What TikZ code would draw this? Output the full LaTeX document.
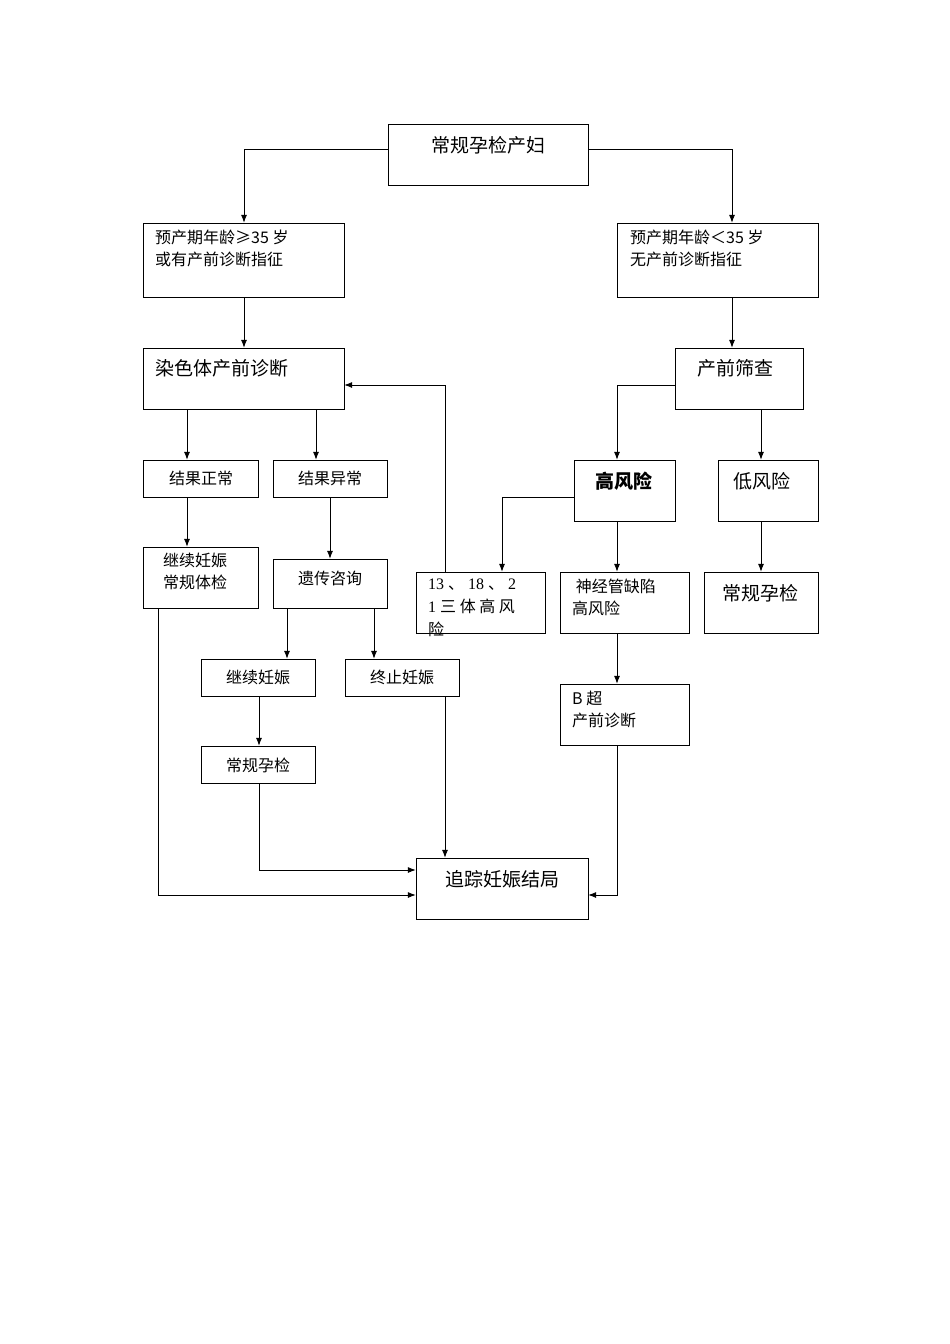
\documentclass[tikz,border=0pt]{standalone}
\usepackage{fontspec}
\setmainfont{Liberation Serif}
\newfontfamily\cjk{Noto Sans CJK SC}
\usetikzlibrary{arrows.meta}
\begin{document}
\begin{tikzpicture}[x=1pt,y=-1pt,
  box/.style={draw,line width=0.9pt,inner sep=0pt},
  big/.style={font=\cjk\fontsize{19}{22}\selectfont,inner sep=0pt},
  sm/.style={font=\cjk\fontsize{16}{22}\selectfont,inner sep=0pt,align=left},
  arr/.style={line width=0.8pt,-{Latex[length=8pt,width=6pt]}}]
\useasboundingbox (0,0) rectangle (950,1344);
\newcommand{\bx}[5]{\path[box] (#2,#3) rectangle (#4,#5); \node[inner sep=0pt,minimum width=#4pt-#2pt,minimum height=#5pt-#3pt] (#1) at ({(#2+#4)/2},{(#3+#5)/2}) {};}
\bx{a}{388}{124}{588}{185}
\bx{b}{143}{223}{344}{297}
\bx{c}{617}{223}{818}{297}
\bx{d}{143}{348}{344}{409}
\bx{e}{675}{348}{803}{409}
\bx{f}{143}{460}{258}{497}
\bx{g}{273}{460}{387}{497}
\bx{h}{574}{460}{675}{521}
\bx{i}{718}{460}{818}{521}
\bx{j}{143}{547}{258}{608}
\bx{k}{273}{559}{387}{608}
\bx{l}{416}{572}{545}{633}
\bx{m}{560}{572}{689}{633}
\bx{n}{704}{572}{818}{633}
\bx{o}{201}{659}{315}{696}
\bx{p}{345}{659}{459}{696}
\bx{q}{560}{684}{689}{745}
\bx{r}{201}{746}{315}{783}
\bx{s}{416}{858}{588}{919}
% texts
\node[big] at (488,145) {常规孕检产妇};
\node[sm,anchor=north west] at (155,230) {预产期年龄≥35 岁\\或有产前诊断指征};
\node[sm,anchor=north west] at (630,230) {预产期年龄＜35 岁\\无产前诊断指征};
\node[big,anchor=west] at (155,368) {染色体产前诊断};
\node[big,anchor=west] at (697,368) {产前筛查};
\node[sm] at (201,478) {结果正常};
\node[sm] at (330,478) {结果异常};
\node[big,font=\cjk\bfseries\fontsize{19}{22}\selectfont] at (624,481) {高风险};
\node[big] at (762,481) {低风险};
\node[sm,anchor=north west] at (163,553) {继续妊娠\\常规体检};
\node[sm] at (330,578) {遗传咨询};
\node[sm,anchor=north west,font=\fontsize{16}{23}\selectfont] at (428,579) {13 {\cjk 、} 18 {\cjk 、} 2\\1 {\cjk 三 体 高 风}\\{\cjk 险}};
\node[sm,anchor=north west] at (572,579) {\ 神经管缺陷\\高风险};
\node[big] at (760,593) {常规孕检};
\node[sm] at (258,677) {继续妊娠};
\node[sm] at (402,677) {终止妊娠};
\node[sm,anchor=north west] at (572,691) {B 超\\产前诊断};
\node[sm] at (258,765) {常规孕检};
\node[big] at (502,879) {追踪妊娠结局};
% arrows
\draw[arr] (a.west|-0,149) -| (244,0|-b.north);
\draw[arr] (a.east|-0,149) -| (732,0|-c.north);
\draw[arr] (244,0|-b.south) -- (244,0|-d.north);
\draw[arr] (732,0|-c.south) -- (732,0|-e.north);
\draw[arr] (187,0|-d.south) -- (187,0|-f.north);
\draw[arr] (316,0|-d.south) -- (316,0|-g.north);
\draw[arr] (e.west|-0,385) -| (617,0|-h.north);
\draw[arr] (761,0|-e.south) -- (761,0|-i.north);
\draw[arr] (187,0|-f.south) -- (187,0|-j.north);
\draw[arr] (330,0|-g.south) -- (330,0|-k.north);
\draw[arr] (h.west|-0,497) -| (502,0|-l.north);
\draw[arr] (617,0|-h.south) -- (617,0|-m.north);
\draw[arr] (761,0|-i.south) -- (761,0|-n.north);
\draw[arr] (445,0|-l.north) |- (d.east|-0,385);
\draw[arr] (287,0|-k.south) -- (287,0|-o.north);
\draw[arr] (374,0|-k.south) -- (374,0|-p.north);
\draw[arr] (617,0|-m.south) -- (617,0|-q.north);
\draw[arr] (259,0|-o.south) -- (259,0|-r.north);
\draw[arr] (259,0|-r.south) |- (s.west|-0,870);
\draw[arr] (158,0|-j.south) |- (s.west|-0,895);
\draw[arr] (445,0|-p.south) -- (445,0|-s.north);
\draw[arr] (617,0|-q.south) |- (s.east|-0,895);
\end{tikzpicture}
\end{document}
